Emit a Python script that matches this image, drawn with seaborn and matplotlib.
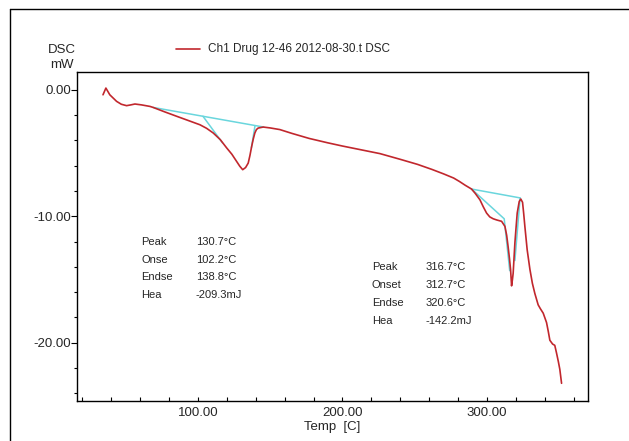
import matplotlib
matplotlib.use("Agg")
import matplotlib.pyplot as plt
import seaborn as sns
from matplotlib.ticker import MultipleLocator, FormatStrFormatter
from matplotlib.lines import Line2D

# DSC trace
temp = [34.3, 36.3, 39.0, 43.7, 47.0, 50.6, 53.5, 56.4, 61.0, 66.8, 69.0, 77.0,
        85.3, 93.0, 101.4, 106.0, 110.6, 115.5, 119.9, 123.5, 126.8, 129.0, 131.0,
        133.0, 134.8, 136.0, 137.2, 138.3, 139.4, 140.5, 141.7, 145.2, 150.0,
        156.7, 165.0, 177.0, 190.0, 200.0, 213.0, 226.0, 240.0, 252.0, 262.0,
        270.0, 277.0, 281.0, 285.0, 289.4, 292.0, 295.2, 297.5, 299.8, 302.0,
        304.4, 307.0, 310.2, 312.5, 313.7, 314.7, 315.6, 316.4, 317.1, 317.7,
        318.2, 319.4, 320.2, 321.0, 322.4, 323.5, 324.7, 325.5, 326.3, 327.9,
        329.8, 331.5, 333.2, 335.5, 337.0, 339.0, 341.3, 342.5, 343.6, 345.5,
        347.0, 348.2, 349.5, 350.5, 351.7]
dsc = [-0.40, 0.13, -0.40, -0.92, -1.15, -1.26, -1.20, -1.13, -1.20, -1.32, -1.40, -1.75,
       -2.10, -2.42, -2.77, -3.05, -3.42, -3.95, -4.60, -5.10, -5.67, -6.05, -6.32,
       -6.15, -5.80, -5.20, -4.48, -3.90, -3.42, -3.15, -3.03, -2.95, -3.02,
       -3.15, -3.45, -3.85, -4.20, -4.45, -4.75, -5.05, -5.50, -5.90, -6.30,
       -6.65, -6.98, -7.25, -7.55, -7.85, -8.20, -8.70, -9.25, -9.75, -10.05,
       -10.20, -10.30, -10.40, -10.80, -11.50, -12.40, -13.30, -14.20, -15.50, -15.00,
       -14.50, -12.10, -10.90, -9.75, -8.83, -8.64, -8.90, -9.80, -10.80, -12.65,
       -14.20, -15.30, -16.10, -17.00, -17.30, -17.66, -18.40, -19.10, -19.80, -20.10,
       -20.20, -20.80, -21.50, -22.10, -23.20]

# analysis construction lines (baseline + tangents)
base1_t, base1_y = [69.0, 145.5], [-1.40, -2.95]
onset1_t, onset1_y = [103.5, 117.0], [-2.10, -4.20]
endset1_t, endset1_y = [139.5, 137.0], [-2.85, -4.60]
base2_t, base2_y = [289.4, 323.0], [-7.85, -8.55]
onset2_t, onset2_y = [289.4, 312.0, 315.8], [-7.85, -10.20, -14.30]
endset2_t, endset2_y = [323.0, 319.4], [-8.55, -13.50]

labels1 = ["Peak", "Onse", "Endse", "Hea"]
values1 = ["130.7°C", "102.2°C", "138.8°C", "-209.3mJ"]
labels2 = ["Peak", "Onset", "Endse", "Hea"]
values2 = ["316.7°C", "312.7°C", "320.6°C", "-142.2mJ"]

legend_text = "Ch1 Drug 12-46 2012-08-30.t DSC"

RED = "#c1272d"
CYAN = "#6ad6dd"
W, H = 629, 441


def px(x, y):
    return x / W, 1 - y / H


def generate_figure():
    sns.set_theme(style="white")
    plt.rcParams["font.family"] = ["Liberation Sans", "DejaVu Sans"]

    fig = plt.figure(figsize=(6.29, 4.41), dpi=100)
    fig.patch.set_facecolor("white")
    ax = fig.add_axes([77 / W, 1 - 401 / H, (588 - 77) / W, (401 - 72) / H])

    for t, y in [(base1_t, base1_y), (onset1_t, onset1_y), (endset1_t, endset1_y),
                 (base2_t, base2_y), (onset2_t, onset2_y), (endset2_t, endset2_y)]:
        sns.lineplot(x=t, y=y, ax=ax, color=CYAN, lw=1.1, sort=False, estimator=None)
    sns.lineplot(x=temp, y=dsc, ax=ax, color=RED, lw=1.2, sort=False, estimator=None)

    ax.set_xlim(16.3, 370)
    ax.set_ylim(-24.6, 1.4)
    ax.xaxis.set_major_locator(MultipleLocator(100))
    ax.xaxis.set_minor_locator(MultipleLocator(20))
    ax.yaxis.set_major_locator(MultipleLocator(10))
    ax.yaxis.set_minor_locator(MultipleLocator(2))
    ax.xaxis.set_major_formatter(FormatStrFormatter("%.2f"))
    ax.yaxis.set_major_formatter(FormatStrFormatter("%.2f"))
    ax.tick_params(axis="x", which="both", direction="in", length=3, width=0.8,
                   color="black", labelsize=9.5, pad=4, bottom=True)
    ax.tick_params(axis="y", which="major", direction="out", length=4, width=0.8,
                   color="black", labelsize=9.5, pad=0, left=True)
    ax.tick_params(axis="y", which="minor", direction="out", length=2, width=0.8,
                   color="black", left=True)
    for s in ax.spines.values():
        s.set_color("black")
        s.set_linewidth(1.0)
    ax.set_xlabel("Temp  [C]", fontsize=9.5, labelpad=2)
    ax.set_ylabel("")

    # y-axis unit label above the axis
    fig.text(*px(62, 50), "DSC", ha="center", va="center", fontsize=9.5)
    fig.text(*px(62, 65), "mW", ha="center", va="center", fontsize=9.5)

    # legend line + text
    fig.add_artist(Line2D([176 / W, 200 / W], [1 - 49 / H, 1 - 49 / H], color=RED, lw=1.2))
    fig.text(*px(208, 49), legend_text, ha="left", va="center", fontsize=8.5)

    # peak annotations
    for i, (lab, val) in enumerate(zip(labels1, values1)):
        y = 242 + i * 17.7
        fig.text(*px(141, y), lab, ha="left", va="center", fontsize=8)
        fig.text(*px(196, y), val, ha="left", va="center", fontsize=8)
    for i, (lab, val) in enumerate(zip(labels2, values2)):
        y = 267 + i * 18
        fig.text(*px(372, y), lab, ha="left", va="center", fontsize=8)
        fig.text(*px(426, y), val, ha="left", va="center", fontsize=8)

    # outer frame
    fig.add_artist(Line2D([10 / W, 10 / W], [0, 1 - 9 / H], color="black", lw=1.0))
    fig.add_artist(Line2D([10 / W, 1], [1 - 9 / H, 1 - 9 / H], color="black", lw=1.0))

    fig.savefig("out.png", dpi=100, facecolor="white")
    plt.close(fig)


if __name__ == "__main__":
    generate_figure()
